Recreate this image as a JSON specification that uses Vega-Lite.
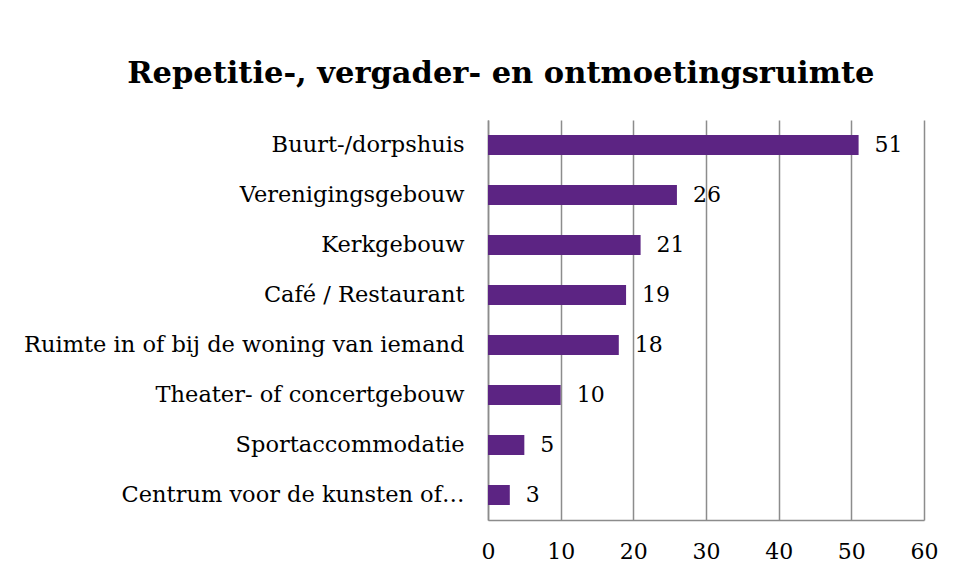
{
  "$schema": "https://vega.github.io/schema/vega-lite/v6.json",
  "width": 436,
  "height": 400,
  "autosize": {"type": "none"},
  "padding": {"left": 488, "top": 120, "right": 33, "bottom": 61},
  "background": "white",
  "config": {
    "view": {"stroke": null},
    "font": "DejaVu Serif"
  },
  "title": {
    "text": "Repetitie-, vergader- en ontmoetingsruimte",
    "font": "DejaVu Serif",
    "fontSize": 30.5,
    "fontWeight": "bold",
    "color": "black",
    "anchor": "middle",
    "frame": "bounds",
    "offset": 31,
    "dx": 20
  },
  "data": {
    "values": [
      {"locatie": "Buurt-/dorpshuis", "aantal": 51},
      {"locatie": "Verenigingsgebouw", "aantal": 26},
      {"locatie": "Kerkgebouw", "aantal": 21},
      {"locatie": "Café / Restaurant", "aantal": 19},
      {"locatie": "Ruimte in of bij de woning van iemand", "aantal": 18},
      {"locatie": "Theater- of concertgebouw", "aantal": 10},
      {"locatie": "Sportaccommodatie", "aantal": 5},
      {"locatie": "Centrum voor de kunsten of…", "aantal": 3}
    ]
  },
  "encoding": {
    "y": {
      "field": "locatie",
      "type": "nominal",
      "sort": null,
      "scale": {"paddingInner": 0.6, "paddingOuter": 0.3},
      "axis": {
        "title": null,
        "ticks": false,
        "domain": true,
        "domainColor": "#8c8c8c",
        "domainWidth": 1.5,
        "labelFont": "DejaVu Serif",
        "labelFontSize": 22.5,
        "labelColor": "black",
        "labelPadding": 24,
        "labelLimit": 600
      }
    },
    "x": {
      "field": "aantal",
      "type": "quantitative",
      "scale": {"domain": [0, 60], "nice": false},
      "axis": {
        "title": null,
        "values": [0, 10, 20, 30, 40, 50, 60],
        "ticks": false,
        "grid": true,
        "gridColor": "#8c8c8c",
        "gridWidth": 1.5,
        "domainColor": "#8c8c8c",
        "domainWidth": 1.5,
        "labelFont": "DejaVu Serif",
        "labelFontSize": 22,
        "labelColor": "black",
        "labelPadding": 21,
        "labelFlush": false
      }
    }
  },
  "layer": [
    {"mark": {"type": "bar", "color": "#5C2483"}},
    {
      "mark": {"type": "text", "align": "left", "dx": 16, "fontSize": 22, "font": "DejaVu Serif", "color": "black"},
      "encoding": {"text": {"field": "aantal", "type": "quantitative"}}
    }
  ]
}
